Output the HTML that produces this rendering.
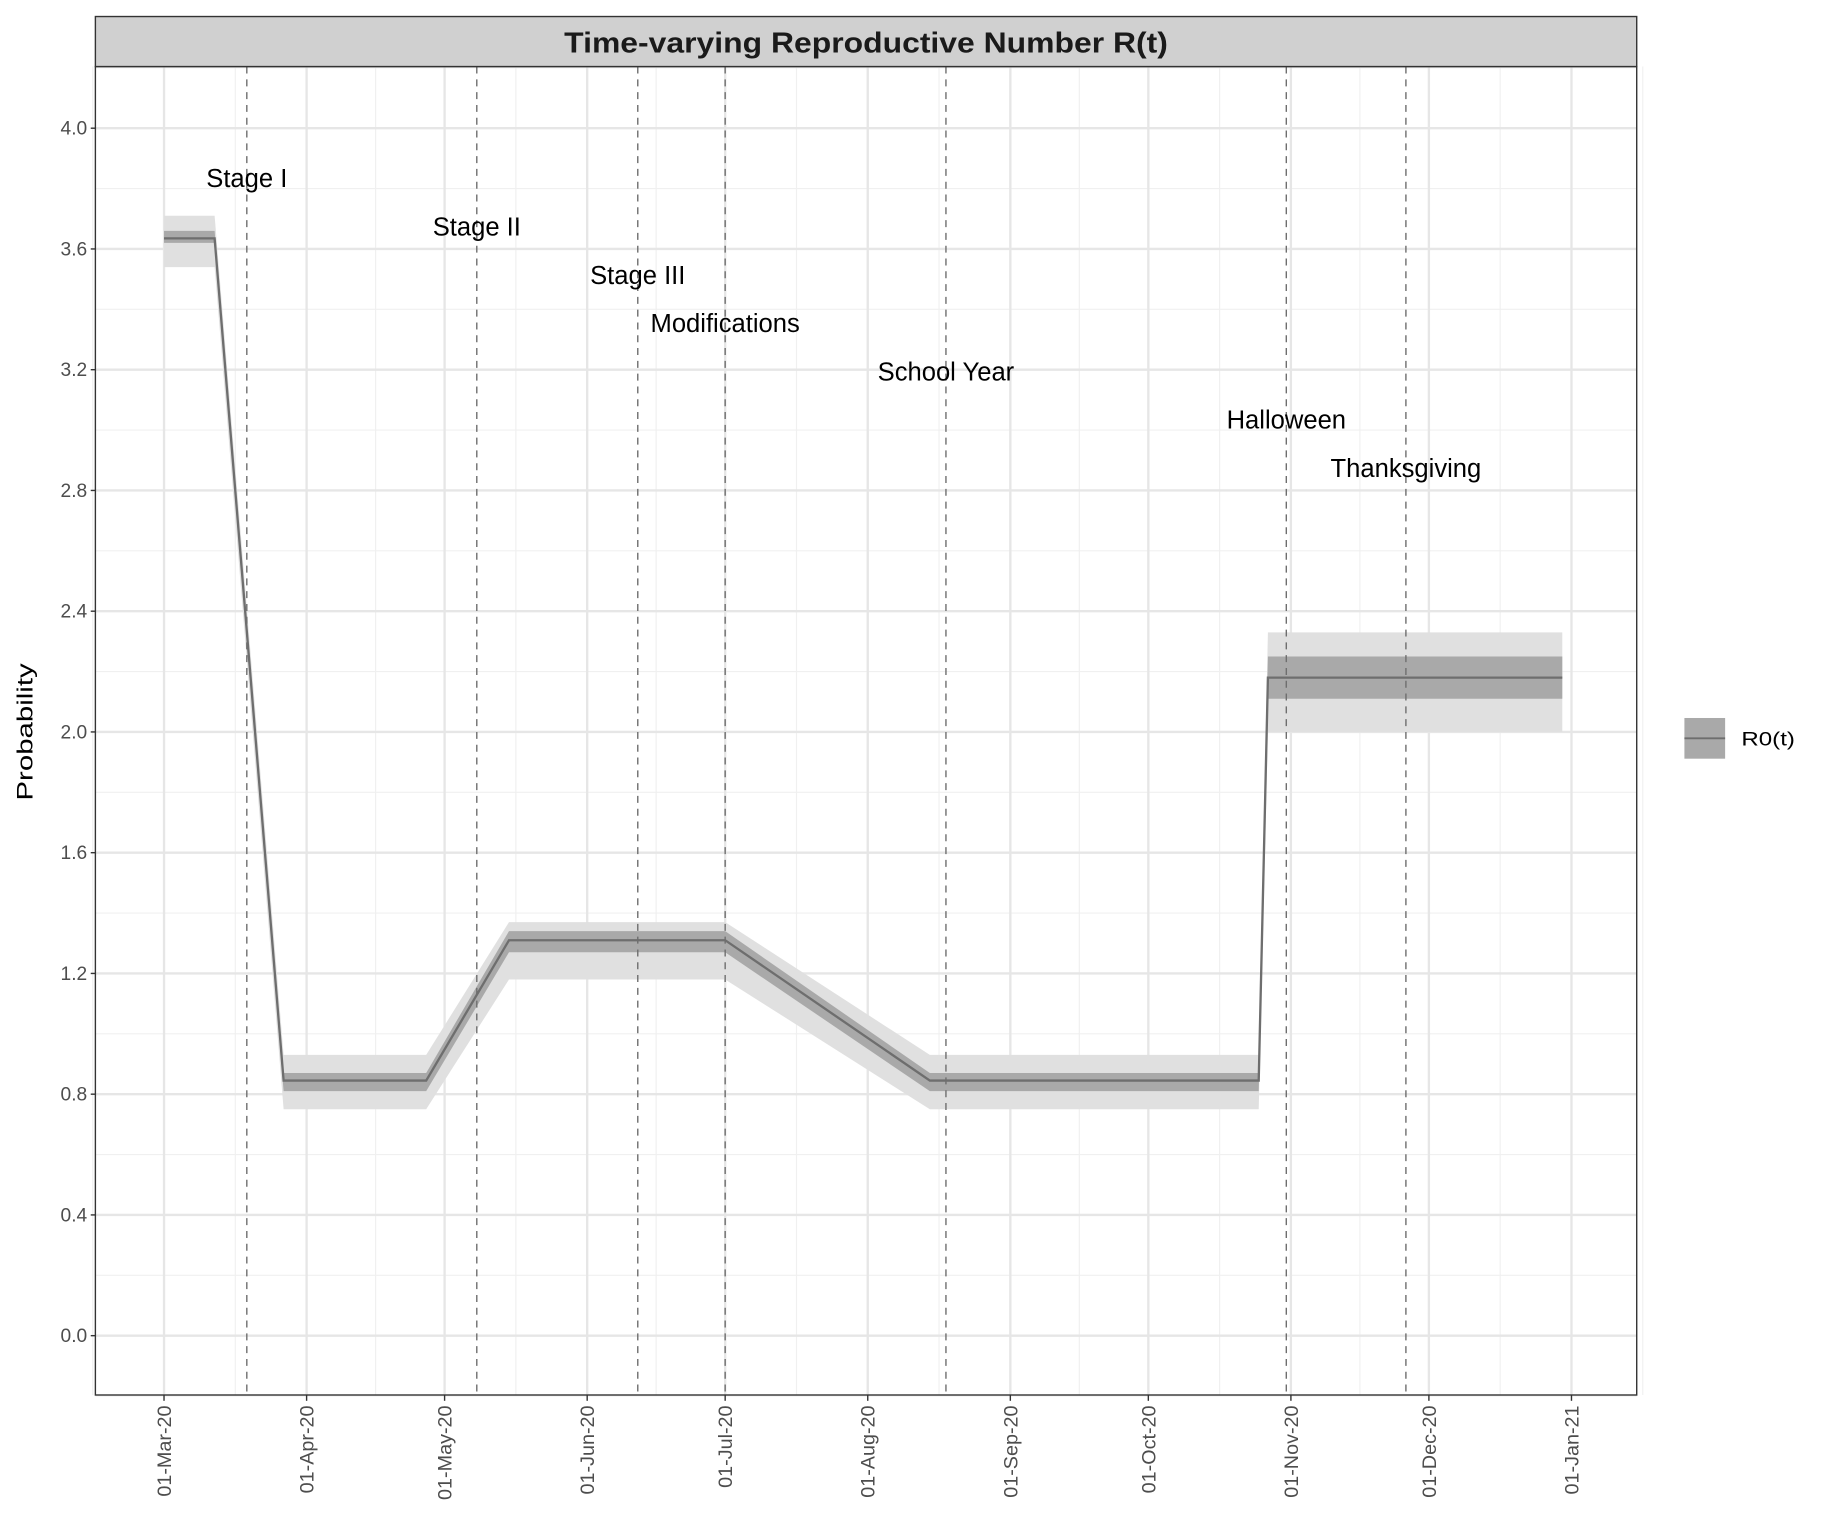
<!DOCTYPE html>
<html><head><meta charset="utf-8"><style>
html,body{margin:0;padding:0;background:#fff}
svg{display:block;font-family:"Liberation Sans",Arial,sans-serif}
</style></head><body>
<svg id="chart" width="1824" height="1536" viewBox="0 0 1568 1320" xmlns="http://www.w3.org/2000/svg">
<g id="grid"></g>
<g id="bands"></g>
<g id="vlines"></g>
<g id="labels"></g>
<g id="axes"></g>
<rect x="82" y="14" width="1325" height="43" fill="#d0d0d0" stroke="#333" stroke-width="1.2"/>
<text x="744.5" y="45" text-anchor="middle" font-size="25" font-weight="bold" fill="#1a1a1a" textLength="519" lengthAdjust="spacingAndGlyphs">Time-varying Reproductive Number R(t)</text>
<text transform="translate(28,629) rotate(-90)" text-anchor="middle" font-size="19" fill="#000" textLength="118" lengthAdjust="spacingAndGlyphs">Probability</text>
<g>
<rect x="1448" y="617" width="35" height="35" fill="#a9a9a9"/>
<line x1="1448" y1="634.5" x2="1483" y2="634.5" stroke="#6e6e6e" stroke-width="1.6"/>
<text x="1497" y="640.5" font-size="16.5" fill="#000" textLength="46" lengthAdjust="spacingAndGlyphs">R0(t)</text>
</g>
</svg>
<script>
const days=[0,11,26,57,75,122,166.5,238,240,304];
const mean=[3.635,3.635,0.845,0.845,1.31,1.31,0.845,0.845,2.18,2.18];
const lo50=[3.62,3.62,0.81,0.81,1.27,1.27,0.81,0.81,2.11,2.11];
const hi50=[3.66,3.66,0.87,0.87,1.34,1.34,0.87,0.87,2.25,2.25];
const lo95=[3.54,3.54,0.75,0.75,1.18,1.18,0.75,0.75,2.0,2.0];
const hi95=[3.71,3.71,0.93,0.93,1.37,1.37,0.93,0.93,2.33,2.33];
const eventNames=["Stage I","Stage II","Stage III","Modifications","School Year","Halloween","Thanksgiving"];
const eventDays=[18,68,103,122,170,244,270];
const eventLabelY=[3.82,3.66,3.5,3.34,3.18,3.02,2.86];
const yTicks=[0,0.4,0.8,1.2,1.6,2.0,2.4,2.8,3.2,3.6,4.0];
const xTickDays=[0,31,61,92,122,153,184,214,245,275,306];
const xTickLabels=["01-Mar-20","01-Apr-20","01-May-20","01-Jun-20","01-Jul-20","01-Aug-20","01-Sep-20","01-Oct-20","01-Nov-20","01-Dec-20","01-Jan-21"];

const NS="http://www.w3.org/2000/svg";
const L=82,R=1407,T=57,B=1199;
const xs=d=>141+d*3.954;
const ys=v=>1148-v*259.5;
function mk(tag,attrs,parent){const e=document.createElementNS(NS,tag);for(const k in attrs)e.setAttribute(k,attrs[k]);parent.appendChild(e);return e;}
const grid=document.getElementById('grid'),bands=document.getElementById('bands'),vl=document.getElementById('vlines'),lab=document.getElementById('labels'),ax=document.getElementById('axes');
mk('rect',{x:L,y:T,width:R-L,height:B-T,fill:'#fff'},grid);
for(let i=0;i<yTicks.length;i++){
  const y=ys(yTicks[i]+0.2);
  mk('line',{x1:L,x2:R,y1:y,y2:y,stroke:'#f0f0f0','stroke-width':1},grid);
  if(i===0){const y2=ys(yTicks[i]-0.2);mk('line',{x1:L,x2:R,y1:y2,y2:y2,stroke:'#f0f0f0','stroke-width':1},grid);}
}
for(let i=0;i<xTickDays.length-1;i++){
  const x=xs((xTickDays[i]+xTickDays[i+1])/2);
  mk('line',{x1:x,x2:x,y1:T,y2:B,stroke:'#f0f0f0','stroke-width':1},grid);
}
{const x=xs(-15.5);mk('line',{x1:x,x2:x,y1:T,y2:B,stroke:'#f0f0f0','stroke-width':1},grid);
 const x2=xs(306+15.5);mk('line',{x1:x2,x2:x2,y1:T,y2:B,stroke:'#f0f0f0','stroke-width':1},grid);}
yTicks.forEach((v,i)=>{
  const y=ys(v);
  mk('line',{x1:L,x2:R,y1:y,y2:y,stroke:'#e6e6e6','stroke-width':2},grid);
  mk('line',{x1:L-4,x2:L,y1:y,y2:y,stroke:'#333','stroke-width':1.2},ax);
  const t=mk('text',{x:L-7,y:y+5.5,'text-anchor':'end','font-size':16.5,fill:'#4d4d4d'},ax);
  t.textContent=v.toFixed(1);
  
  
});
xTickDays.forEach((d,i)=>{
  const x=xs(d);
  mk('line',{x1:x,x2:x,y1:T,y2:B,stroke:'#e6e6e6','stroke-width':2},grid);
  mk('line',{x1:x,x2:x,y1:B,y2:B+5,stroke:'#333','stroke-width':1.2},ax);
  const t=mk('text',{transform:`translate(${x+6},${B+9}) rotate(-90)`,'text-anchor':'end','font-size':17,fill:'#4d4d4d'},ax);
  t.textContent=xTickLabels[i];
  
  
});
function area(lo,hi,fill,name){
  let p=days.map((d,i)=>`${xs(d)},${ys(hi[i])}`);
  for(let i=days.length-1;i>=0;i--)p.push(`${xs(days[i])},${ys(lo[i])}`);
  const e=mk('polygon',{points:p.join(' '),fill:fill},bands);
  
  
}
area(lo95,hi95,'#e0e0e0','ci95-band');
area(lo50,hi50,'#a9a9a9','ci50-band');
const ln=mk('polyline',{points:days.map((d,i)=>`${xs(d)},${ys(mean[i])}`).join(' '),fill:'none',stroke:'#6e6e6e','stroke-width':2},bands);


eventDays.forEach((d,i)=>{
  const x=xs(d);
  const l=mk('line',{x1:x,x2:x,y1:T,y2:B,stroke:'#6e6e6e','stroke-width':1.2,'stroke-dasharray':'6,5'},vl);
  
  
  const t=mk('text',{x:x,y:ys(eventLabelY[i])+4,'text-anchor':'middle','font-size':22,fill:'#000'},lab);
  t.textContent=eventNames[i];
  
  
});
mk('rect',{x:L,y:T,width:R-L,height:B-T,fill:'none',stroke:'#333','stroke-width':1.2},ax);
</script>
</body></html>
